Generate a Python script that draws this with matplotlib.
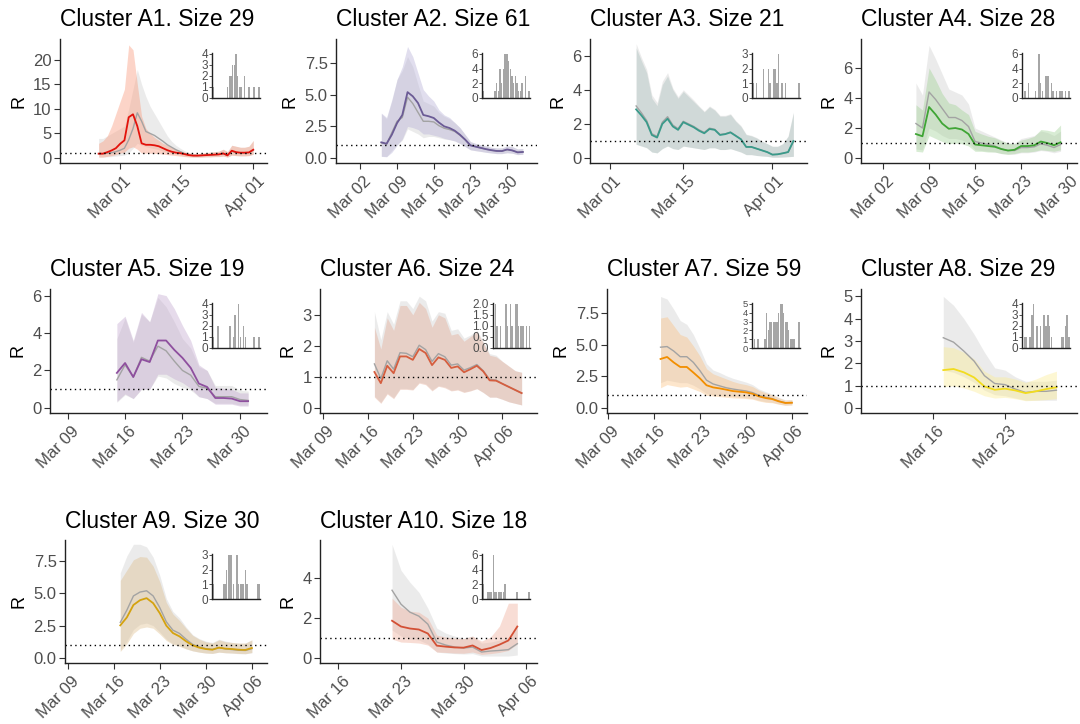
import numpy as np
import matplotlib
matplotlib.use("Agg")

import matplotlib.pyplot as plt
import matplotlib.dates as mdates
from matplotlib.transforms import ScaledTranslation

plt.rcParams["font.family"] = ["Liberation Sans", "DejaVu Sans"]


# =====================================================
# DATA  (daily R estimates, one value per day from START)
# colour = cluster estimate, G = grey reference estimate
# =====================================================

CLUSTERS = ["A1", "A2", "A3", "A4", "A5", "A6", "A7", "A8", "A9", "A10"]
SIZES = [29, 61, 21, 28, 19, 24, 59, 29, 30, 18]

A1_START = "2020-02-25"
A1_R = [0.9, 0.9, 1.2, 1.55, 2.0, 2.9, 3.6, 8.3, 8.9, 6.5, 3.0, 2.7, 2.7, 2.6, 2.4, 2.0, 1.6, 1.3, 1.1,
        1.0, 0.8, 0.6, 0.5, 0.5, 0.55, 0.6, 0.65, 0.7, 0.75, 0.95, 0.55, 1.5, 1.2, 1.1, 1.1, 1.15, 1.7]
A1_HI = [3.0, 3.5, 4.5, 6.5, 9.0, 11.5, 14.0, 23.0, 22.0, 15.0, 8.5, 6.0, 5.0, 4.2, 3.6, 3.0, 2.6, 2.2, 1.8,
         1.5, 1.2, 1.0, 0.9, 0.9, 1.0, 1.1, 1.2, 1.3, 1.4, 1.8, 1.3, 2.6, 2.4, 2.2, 2.2, 2.4, 3.6]
A1_LO = [0.2, 0.2, 0.35, 0.5, 0.7, 1.0, 1.2, 2.0, 2.3, 1.8, 1.0, 1.0, 1.0, 0.95, 0.9, 0.8, 0.7, 0.6, 0.5,
         0.4, 0.3, 0.25, 0.2, 0.2, 0.2, 0.25, 0.25, 0.3, 0.3, 0.4, 0.2, 0.6, 0.5, 0.45, 0.45, 0.5, 0.8]
A1_G = [0.9, 0.9, 1.0, 1.1, 1.3, 1.6, 2.0, 3.7, 6.0, 9.2, 7.5, 5.4, 5.0, 4.6, 4.0, 3.4, 2.7, 2.2, 1.7,
        1.3, 0.9, 0.65, 0.55, 0.5, 0.55, 0.6, 0.65, 0.7, 0.75, 0.9, 0.55, 1.4, 1.15, 1.05, 1.05, 1.1, 1.6]
A1_GHI = [4.0, 4.0, 4.5, 5.0, 5.5, 6.0, 6.5, 10.0, 14.0, 18.0, 15.0, 12.5, 10.5, 9.0, 7.5, 6.0, 4.5, 3.4, 2.6,
          2.0, 1.5, 1.1, 0.95, 0.9, 1.0, 1.1, 1.2, 1.3, 1.4, 1.8, 1.3, 2.6, 2.4, 2.2, 2.2, 2.4, 3.5]
A1_GLO = [0.2, 0.2, 0.25, 0.3, 0.4, 0.5, 0.6, 1.0, 2.0, 3.0, 2.6, 2.3, 2.1, 1.9, 1.7, 1.4, 1.2, 1.0, 0.8,
          0.6, 0.35, 0.25, 0.2, 0.2, 0.2, 0.25, 0.25, 0.3, 0.3, 0.4, 0.2, 0.6, 0.5, 0.45, 0.45, 0.5, 0.75]
A1_HIST = [1, 0, 0, 0, 0, 0, 0, 0, 0, 1, 2, 2, 3, 3, 4, 2, 1, 1, 0, 2, 0, 0, 1, 0, 0, 1, 0, 0, 1]

A2_START = "2020-03-06"
A2_R = [1.24, 1.13, 1.84, 2.76, 3.4, 5.2, 4.87, 4.34, 3.4, 3.3, 3.16, 2.8, 2.5, 2.37, 2.16, 1.84, 1.45,
        1.0, 0.9, 0.8, 0.7, 0.62, 0.56, 0.55, 0.68, 0.6, 0.45, 0.48]
A2_HI = [3.55, 3.2, 4.6, 6.2, 7.2, 8.8, 8.0, 6.7, 5.4, 4.9, 4.5, 3.8, 3.4, 3.2, 2.8, 2.4, 1.85,
         1.3, 1.15, 1.05, 0.95, 0.85, 0.8, 0.8, 0.95, 0.9, 0.72, 0.75]
A2_LO = [0.13, 0.1, 0.45, 1.0, 1.5, 2.5, 2.4, 2.25, 1.9, 1.9, 1.8, 1.7, 1.55, 1.45, 1.35, 1.15, 0.9,
         0.65, 0.58, 0.52, 0.45, 0.4, 0.35, 0.35, 0.42, 0.38, 0.27, 0.3]
A2_G = [1.2, 1.1, 2.0, 2.9, 3.2, 4.8, 4.3, 3.6, 2.9, 2.9, 2.85, 2.55, 2.35, 2.25, 2.1, 1.8, 1.45,
        1.0, 0.9, 0.8, 0.7, 0.62, 0.56, 0.55, 0.66, 0.6, 0.45, 0.48]
A2_GHI = [3.5, 3.1, 4.5, 6.2, 6.9, 8.0, 7.2, 5.8, 4.5, 4.3, 4.1, 3.6, 3.3, 3.1, 2.8, 2.4, 1.85,
          1.3, 1.15, 1.05, 0.95, 0.85, 0.8, 0.8, 0.95, 0.9, 0.72, 0.75]
A2_GLO = [0.15, 0.12, 0.6, 1.1, 1.4, 2.3, 2.1, 1.9, 1.6, 1.7, 1.7, 1.6, 1.5, 1.45, 1.35, 1.15, 0.9,
          0.65, 0.58, 0.52, 0.45, 0.4, 0.35, 0.35, 0.42, 0.38, 0.27, 0.3]
A2_HIST = [1, 0, 0, 0, 0, 0, 0, 1, 2, 1, 4, 2, 4, 6, 6, 5, 4, 3, 2, 3, 2, 1, 1, 2, 0, 3, 0, 1]

A3_START = "2020-03-06"
A3_R = [2.85, 2.5, 2.1, 1.35, 1.2, 2.0, 2.3, 1.85, 1.65, 2.1, 1.95, 1.8, 1.6, 1.45, 1.7, 1.65, 1.35,
        1.4, 1.5, 1.3, 1.1, 0.65, 0.65, 0.55, 0.45, 0.35, 0.2, 0.22, 0.28, 0.35, 1.0]
A3_HI = [6.45, 5.7, 5.0, 3.5, 3.07, 4.3, 4.8, 4.0, 3.5, 3.9, 3.6, 3.3, 3.0, 2.7, 3.0, 2.8, 2.45,
         2.45, 2.55, 2.15, 1.85, 1.37, 1.3, 1.17, 0.98, 0.84, 0.68, 0.68, 0.84, 1.27, 2.64]
A3_LO = [0.8, 0.7, 0.6, 0.35, 0.3, 0.55, 0.7, 0.55, 0.5, 0.7, 0.65, 0.6, 0.55, 0.5, 0.6, 0.6, 0.5,
         0.5, 0.55, 0.45, 0.35, 0.2, 0.2, 0.15, 0.12, 0.1, 0.05, 0.05, 0.06, 0.08, 0.1]
A3_G = [3.05, 2.65, 2.2, 1.42, 1.27, 2.1, 2.42, 1.93, 1.72, 2.15, 2.0, 1.85, 1.65, 1.5, 1.75, 1.68, 1.38,
        1.42, 1.52, 1.32, 1.1, 0.65, 0.65, 0.55, 0.45, 0.35, 0.2, 0.22, 0.28, 0.35, 0.95]
A3_GHI = [6.7, 5.9, 5.2, 3.7, 3.25, 4.5, 5.0, 4.1, 3.6, 4.0, 3.7, 3.4, 3.05, 2.75, 3.05, 2.85, 2.5,
          2.5, 2.6, 2.2, 1.9, 1.4, 1.33, 1.2, 1.0, 0.85, 0.7, 0.7, 0.85, 1.3, 2.7]
A3_GLO = [0.82, 0.72, 0.62, 0.36, 0.31, 0.56, 0.72, 0.56, 0.5, 0.7, 0.65, 0.6, 0.55, 0.5, 0.6, 0.6, 0.5,
          0.5, 0.55, 0.45, 0.35, 0.2, 0.2, 0.15, 0.12, 0.1, 0.05, 0.05, 0.06, 0.08, 0.1]
A3_HIST = [1, 0, 1, 0, 0, 0, 2, 0, 0, 2, 1, 0, 2, 2, 1, 3, 0, 1, 0, 1, 0, 0, 0, 0, 0, 0, 0, 1]

A4_START = "2020-03-07"
A4_R = [1.6, 1.45, 3.4, 2.9, 2.3, 1.95, 2.0, 1.9, 1.6, 0.9, 0.85, 0.8, 0.75, 0.6, 0.5, 0.55, 0.8,
        0.8, 0.85, 1.1, 1.0, 0.85, 1.05]
A4_HI = [3.55, 3.2, 6.0, 5.2, 4.3, 3.67, 3.55, 3.2, 2.9, 1.78, 1.6, 1.45, 1.35, 1.15, 1.0, 0.95, 1.2,
         1.3, 1.45, 1.9, 1.85, 1.75, 2.2]
A4_LO = [0.45, 0.4, 1.5, 1.3, 1.1, 0.95, 1.0, 0.95, 0.8, 0.45, 0.45, 0.4, 0.4, 0.3, 0.25, 0.3, 0.4,
         0.4, 0.45, 0.55, 0.5, 0.45, 0.55]
A4_G = [2.3, 2.0, 4.4, 3.9, 3.3, 2.7, 2.7, 2.5, 2.1, 1.1, 1.0, 0.9, 0.8, 0.6, 0.5, 0.5, 0.7,
        0.7, 0.75, 0.95, 0.85, 0.7, 0.9]
A4_GHI = [5.0, 4.2, 7.5, 6.6, 5.6, 4.6, 4.4, 4.2, 3.6, 2.0, 1.8, 1.6, 1.4, 1.2, 1.0, 1.0, 1.3,
          1.4, 1.5, 1.8, 1.7, 1.5, 1.8]
A4_GLO = [0.6, 0.55, 2.0, 1.8, 1.5, 1.3, 1.3, 1.2, 1.0, 0.55, 0.5, 0.45, 0.4, 0.3, 0.25, 0.25, 0.35,
          0.35, 0.4, 0.5, 0.45, 0.35, 0.45]
A4_HIST = [0, 1, 0, 2, 0, 0, 0, 1, 0, 6, 2, 1, 0, 3, 3, 0, 2, 1, 0, 1, 0, 1, 1, 0, 1, 0, 1]

A5_START = "2020-03-15"
A5_R = [1.87, 2.4, 1.65, 2.6, 2.45, 3.6, 3.6, 3.1, 2.67, 2.14, 1.3, 1.12, 0.53, 0.53, 0.5, 0.36, 0.36]
A5_HI = [4.5, 4.9, 3.6, 5.1, 4.6, 6.1, 6.0, 5.3, 4.4, 3.6, 2.3, 2.0, 1.1, 1.05, 1.0, 0.8, 0.8]
A5_LO = [0.35, 0.75, 0.5, 1.0, 1.0, 1.8, 1.8, 1.55, 1.35, 1.05, 0.6, 0.5, 0.2, 0.2, 0.2, 0.1, 0.1]
A5_G = [1.5, 2.3, 1.65, 2.7, 2.5, 3.3, 3.05, 2.5, 2.0, 1.75, 1.15, 1.05, 0.6, 0.6, 0.6, 0.45, 0.4]
A5_GHI = [3.7, 4.8, 3.5, 5.0, 4.6, 5.9, 5.4, 4.6, 3.7, 3.2, 2.2, 2.0, 1.2, 1.2, 1.2, 0.95, 0.9]
A5_GLO = [0.3, 0.7, 0.5, 1.0, 1.0, 1.7, 1.6, 1.3, 1.1, 0.95, 0.6, 0.5, 0.25, 0.25, 0.25, 0.15, 0.15]
A5_HIST = [1, 0, 0, 2, 0, 0, 0, 0, 0, 0, 2, 0, 1, 3, 0, 4, 1, 0, 2, 1, 0, 0, 0, 0, 1, 0, 0, 1]

A6_START = "2020-03-17"
A6_R = [1.16, 0.8, 1.36, 1.12, 1.66, 1.66, 1.55, 1.9, 1.77, 1.38, 1.63, 1.55, 1.29, 1.34, 1.15, 1.25,
        1.36, 1.18, 0.89, 0.88, 0.78, 0.68, 0.58, 0.48]
A6_HI = [2.6, 1.9, 2.9, 2.5, 3.3, 3.3, 3.0, 3.4, 3.2, 2.6, 3.0, 2.9, 2.35, 2.4, 2.15, 2.3,
         2.45, 2.1, 1.7, 1.65, 1.5, 1.35, 1.2, 1.15]
A6_LO = [0.35, 0.15, 0.45, 0.3, 0.6, 0.6, 0.58, 0.8, 0.75, 0.55, 0.7, 0.65, 0.55, 0.58, 0.5, 0.55,
         0.62, 0.5, 0.35, 0.35, 0.28, 0.2, 0.15, 0.1]
A6_G = [1.42, 0.95, 1.52, 1.25, 1.78, 1.76, 1.65, 2.02, 1.88, 1.5, 1.75, 1.65, 1.38, 1.42, 1.22, 1.3,
        1.4, 1.2, 0.92, 0.9, 0.78, 0.68, 0.58, 0.48]
A6_GHI = [3.1, 2.2, 3.1, 2.7, 3.45, 3.45, 3.2, 3.6, 3.45, 2.8, 3.1, 3.05, 2.5, 2.55, 2.25, 2.35,
          2.5, 2.15, 1.75, 1.7, 1.5, 1.35, 1.2, 1.15]
A6_GLO = [0.38, 0.18, 0.48, 0.33, 0.63, 0.63, 0.6, 0.83, 0.78, 0.58, 0.72, 0.68, 0.57, 0.6, 0.52, 0.56,
          0.63, 0.5, 0.35, 0.35, 0.28, 0.2, 0.15, 0.1]
A6_HIST = [0, 2, 1, 1, 0, 1, 0, 0, 0, 2, 1, 0, 2, 1, 1, 0, 2, 2, 1, 0, 1, 1, 1, 0, 1, 0, 1]

A7_START = "2020-03-17"
A7_R = [3.87, 4.03, 3.6, 3.24, 3.24, 2.8, 2.34, 1.8, 1.63, 1.55, 1.45, 1.34, 1.29, 1.24, 1.13, 0.92,
        0.79, 0.71, 0.53, 0.4, 0.42]
A7_HI = [7.1, 7.2, 6.5, 5.8, 5.6, 4.9, 4.1, 3.1, 2.7, 2.5, 2.3, 2.1, 1.95, 1.85, 1.7, 1.4,
         1.2, 1.05, 0.8, 0.62, 0.65]
A7_LO = [1.6, 1.85, 1.75, 1.65, 1.7, 1.5, 1.3, 1.0, 0.95, 0.9, 0.85, 0.8, 0.78, 0.75, 0.7, 0.55,
         0.45, 0.42, 0.3, 0.22, 0.24]
A7_G = [4.8, 4.85, 4.5, 4.05, 4.05, 3.6, 2.95, 2.2, 1.9, 1.75, 1.6, 1.5, 1.42, 1.35, 1.22, 1.0,
        0.85, 0.75, 0.55, 0.42, 0.43]
A7_GHI = [8.8, 8.6, 7.8, 6.9, 6.6, 5.8, 4.7, 3.5, 3.0, 2.8, 2.55, 2.35, 2.2, 2.05, 1.85, 1.5,
          1.3, 1.1, 0.85, 0.65, 0.67]
A7_GLO = [2.0, 2.2, 2.1, 2.0, 2.0, 1.8, 1.5, 1.15, 1.05, 1.0, 0.95, 0.9, 0.85, 0.82, 0.75, 0.6,
          0.5, 0.45, 0.32, 0.23, 0.25]
A7_HIST = [0, 1, 0, 1, 0, 0, 0, 1, 4, 2, 3, 3, 3, 3, 3, 4, 5, 5, 4, 3, 3, 2, 1, 1, 1, 0, 0, 3]

A8_START = "2020-03-17"
A8_R = [1.7, 1.75, 1.6, 1.37, 0.97, 0.82, 0.87, 0.79, 0.67, 0.75, 0.85, 0.93]
A8_HI = [2.75, 2.7, 2.5, 2.2, 1.65, 1.4, 1.4, 1.3, 1.15, 1.3, 1.5, 1.65]
A8_LO = [0.95, 1.0, 0.9, 0.75, 0.55, 0.45, 0.48, 0.42, 0.33, 0.35, 0.38, 0.42]
A8_G = [3.15, 2.95, 2.55, 2.1, 1.45, 1.1, 1.05, 0.85, 0.7, 0.75, 0.75, 0.8]
A8_GHI = [5.0, 4.6, 4.0, 3.3, 2.5, 1.8, 1.7, 1.4, 1.2, 1.2, 1.2, 1.25]
A8_GLO = [1.7, 1.6, 1.4, 1.15, 0.8, 0.6, 0.55, 0.45, 0.35, 0.35, 0.35, 0.35]
A8_HIST = [0, 1, 1, 0, 1, 3, 4, 0, 2, 0, 2, 0, 3, 2, 3, 2, 1, 0, 0, 0, 0, 0, 1, 1, 2, 3, 1]

A9_START = "2020-03-17"
A9_R = [2.52, 3.14, 4.1, 4.47, 4.63, 4.24, 3.47, 2.5, 1.93, 1.67, 1.29, 0.98, 0.8, 0.69, 0.64, 0.8,
        0.72, 0.69, 0.64, 0.62, 0.77]
A9_HI = [6.0, 6.8, 7.6, 7.85, 7.8, 7.1, 5.9, 4.3, 3.4, 2.9, 2.3, 1.75, 1.45, 1.25, 1.15, 1.4,
         1.25, 1.2, 1.15, 1.15, 1.4]
A9_LO = [0.5, 1.1, 1.9, 2.3, 2.4, 2.3, 1.85, 1.35, 1.05, 0.9, 0.7, 0.55, 0.45, 0.38, 0.35, 0.45,
         0.4, 0.38, 0.35, 0.33, 0.42]
A9_G = [2.75, 3.7, 4.8, 5.1, 5.2, 4.8, 3.9, 2.8, 2.15, 1.9, 1.45, 1.05, 0.85, 0.72, 0.66, 0.8,
        0.7, 0.65, 0.6, 0.58, 0.72]
A9_GHI = [6.6, 7.9, 8.8, 8.8, 8.6, 7.8, 6.4, 4.6, 3.6, 3.1, 2.4, 1.8, 1.5, 1.3, 1.2, 1.45,
          1.3, 1.2, 1.15, 1.15, 1.4]
A9_GLO = [0.6, 1.3, 2.2, 2.6, 2.7, 2.5, 2.0, 1.45, 1.1, 0.95, 0.72, 0.55, 0.45, 0.38, 0.35, 0.45,
          0.4, 0.37, 0.33, 0.32, 0.4]
A9_HIST = [1, 0, 0, 0, 0, 0, 1, 1, 2, 3, 3, 3, 1, 0, 3, 1, 1, 1, 1, 2, 1, 0, 0, 0, 0, 0, 1, 1]

A10_START = "2020-03-22"
A10_R = [1.87, 1.58, 1.48, 1.43, 1.23, 0.62, 0.57, 0.53, 0.52, 0.63, 0.4, 0.5, 0.67, 0.88, 1.58]
A10_HI = [3.0, 2.55, 2.35, 2.3, 2.0, 1.15, 1.05, 1.0, 0.97, 1.1, 0.85, 1.05, 1.6, 2.75, 2.75]
A10_LO = [0.95, 0.8, 0.78, 0.75, 0.65, 0.3, 0.28, 0.25, 0.24, 0.3, 0.18, 0.22, 0.28, 0.38, 0.7]
A10_G = [3.4, 2.7, 2.3, 2.1, 1.7, 0.8, 0.65, 0.55, 0.5, 0.55, 0.3, 0.35, 0.38, 0.42, 0.72]
A10_GHI = [5.7, 4.4, 3.8, 3.3, 2.5, 1.5, 1.25, 1.1, 1.0, 1.1, 0.75, 0.8, 0.9, 1.0, 1.6]
A10_GLO = [1.4, 1.1, 0.95, 0.9, 0.7, 0.3, 0.25, 0.22, 0.2, 0.22, 0.1, 0.1, 0.1, 0.1, 0.15]
A10_HIST = [2, 0, 0, 1, 1, 1, 6, 1, 1, 1, 1, 1, 1, 2, 0, 0, 0, 0, 0, 0, 1, 0, 0, 0, 0, 0, 0, 1]

# axis ticks per panel
X_TICKS = {
    "A1": ["2020-03-01", "2020-03-15", "2020-04-01"],
    "A2": ["2020-03-02", "2020-03-09", "2020-03-16", "2020-03-23", "2020-03-30"],
    "A3": ["2020-03-01", "2020-03-15", "2020-04-01"],
    "A4": ["2020-03-02", "2020-03-09", "2020-03-16", "2020-03-23", "2020-03-30"],
    "A5": ["2020-03-09", "2020-03-16", "2020-03-23", "2020-03-30"],
    "A6": ["2020-03-09", "2020-03-16", "2020-03-23", "2020-03-30", "2020-04-06"],
    "A7": ["2020-03-09", "2020-03-16", "2020-03-23", "2020-03-30", "2020-04-06"],
    "A8": ["2020-03-16", "2020-03-23"],
    "A9": ["2020-03-09", "2020-03-16", "2020-03-23", "2020-03-30", "2020-04-06"],
    "A10": ["2020-03-16", "2020-03-23", "2020-03-30", "2020-04-06"],
}
Y_TICKS = {
    "A1": [0, 5, 10, 15, 20], "A2": [0, 2.5, 5, 7.5], "A3": [0, 2, 4, 6], "A4": [0, 2, 4, 6],
    "A5": [0, 2, 4, 6], "A6": [0, 1, 2, 3], "A7": [0, 2.5, 5, 7.5], "A8": [0, 1, 2, 3, 4, 5],
    "A9": [0, 2.5, 5, 7.5], "A10": [0, 2, 4],
}
HIST_TICKS = {
    "A1": [0, 1, 2, 3, 4], "A2": [0, 2, 4, 6], "A3": [0, 1, 2, 3], "A4": [0, 2, 4, 6],
    "A5": [0, 1, 2, 3, 4], "A6": [0, 0.5, 1, 1.5, 2], "A7": [0, 1, 2, 3, 4, 5],
    "A8": [0, 1, 2, 3, 4], "A9": [0, 1, 2, 3], "A10": [0, 2, 4, 6],
}


# =====================================================
# STYLE / LAYOUT
# =====================================================

LINE_COLORS = ["#E3120B", "#6B5B95", "#3A9A8A", "#3FA535", "#8E4F9E",
               "#D55E3F", "#F28E00", "#F2DC1E", "#D4A20F", "#D35035"]
FILL_COLORS = ["#FA9A7C", "#B4AED6", "#A9C0BC", "#9ACF8E", "#BFA2CC",
               "#E3A58E", "#FBBE7A", "#FCEB8C", "#DDBB86", "#EFA892"]
FILL_ALPHA = [0.42, 0.4, 0.4, 0.38, 0.38, 0.38, 0.38, 0.38, 0.38, 0.38]

# panel boxes in pixels: left, right, top, bottom
BOXES = {
    "A1": (60, 267, 39, 163), "A2": (336, 537, 39, 163), "A3": (590, 807, 39, 163),
    "A4": (861, 1077, 39, 163), "A5": (50, 267, 289, 413), "A6": (320, 537, 289, 413),
    "A7": (607, 807, 289, 413), "A8": (861, 1077, 289, 413), "A9": (65, 267, 540, 663),
    "A10": (320, 537, 540, 663),
}
# x limits as days from 1 March, y limits
XLIMS = {
    "A1": (-14, 34.2), "A2": (-3.65, 34.7), "A3": (-3.8, 37.6), "A4": (-2.35, 30.5),
    "A5": (5.85, 32.3), "A6": (7.5, 41.4), "A7": (7.85, 38.3), "A8": (8, 29),
    "A9": (7.6, 38.3), "A10": (12.95, 37.2),
}
YLIMS = {
    "A1": (-1.0, 24.2), "A2": (-0.39, 9.39), "A3": (-0.29, 6.97), "A4": (-0.33, 7.93),
    "A5": (-0.27, 6.35), "A6": (-0.16, 3.83), "A7": (-0.39, 9.39), "A8": (-0.22, 5.33),
    "A9": (-0.39, 9.13), "A10": (-0.25, 5.92),
}
INSET_W = {"A6": 37}
INSET_FS = {"A7": 6.8}

W, H = 1080, 724
TEXT_GREY = "#4D4D4D"

fig = plt.figure(figsize=(W / 100, H / 100), dpi=100)


def px_box(left, right, top, bottom):
    return [left / W, 1 - bottom / H, (right - left) / W, (bottom - top) / H]


base = mdates.date2num(np.datetime64("2020-03-01"))

for i, name in enumerate(CLUSTERS):

    g = globals()
    start = np.datetime64(g[name + "_START"])
    r = np.array(g[name + "_R"])
    dates = start + np.arange(len(r))

    left, right, top, bottom = BOXES[name]
    ax = fig.add_axes(px_box(left, right, top, bottom))

    ax.fill_between(dates, g[name + "_GLO"], g[name + "_GHI"],
                    color="#DCDCDC", alpha=0.55, lw=0)
    ax.fill_between(dates, g[name + "_LO"], g[name + "_HI"],
                    color=FILL_COLORS[i], alpha=FILL_ALPHA[i], lw=0)
    ax.plot(dates, g[name + "_G"], color="#A3A3A3", lw=1.0)
    ax.plot(dates, r, color=LINE_COLORS[i], lw=1.3)
    ax.axhline(1, color="black", lw=1.0, ls=(0, (1, 2.5)))

    ax.set_xlim(base + XLIMS[name][0], base + XLIMS[name][1])
    ax.set_ylim(*YLIMS[name])

    ax.set_xticks([np.datetime64(t) for t in X_TICKS[name]])
    ax.xaxis.set_major_formatter(mdates.DateFormatter("%b %d"))
    ax.set_yticks(Y_TICKS[name])
    if name in ("A2", "A7", "A9"):
        ax.set_yticklabels([f"{v:.1f}" for v in Y_TICKS[name]])
    else:
        ax.set_yticklabels([f"{v:g}" for v in Y_TICKS[name]])

    for s in ("top", "right"):
        ax.spines[s].set_visible(False)
    for s in ("left", "bottom"):
        ax.spines[s].set_color("#222222")
        ax.spines[s].set_linewidth(1.0)
    ax.tick_params(length=4, width=0.8, color="#333333", labelcolor=TEXT_GREY,
                   labelsize=12, pad=2)

    offset = ScaledTranslation(3.5 / 100, -2 / 100, fig.dpi_scale_trans)
    for lab in ax.get_xticklabels():
        lab.set_rotation(45)
        lab.set_ha("right")
        lab.set_va("top")
        lab.set_rotation_mode("anchor")
        lab.set_transform(lab.get_transform() + offset)

    ax.set_ylabel("R", fontsize=13, color="black", labelpad=4)
    ax.set_title(f"Cluster {name}. Size {SIZES[i]}", loc="left",
                 fontsize=16.5, pad=9, color="black")

    # inset histogram of case counts
    hist = g[name + "_HIST"]
    iw = INSET_W.get(name, 48)
    iax = fig.add_axes(px_box(right - 7 - iw, right - 7, top + 14, top + 59))
    iax.bar(np.arange(len(hist)), hist, width=0.85, color="#A6A6A6", lw=0)
    iax.set_xlim(-0.6, len(hist) - 0.4)
    hmax = HIST_TICKS[name][-1]
    iax.set_ylim(0, hmax * 1.02)
    iax.set_yticks(HIST_TICKS[name])
    if name == "A6":
        iax.set_yticklabels([f"{v:.1f}" for v in HIST_TICKS[name]])
    else:
        iax.set_yticklabels([f"{v:g}" for v in HIST_TICKS[name]])
    iax.set_xticks([])
    iax.patch.set_alpha(0)
    for s in ("top", "right"):
        iax.spines[s].set_visible(False)
    for s in ("left", "bottom"):
        iax.spines[s].set_color("#222222")
        iax.spines[s].set_linewidth(1.0)
    iax.tick_params(axis="y", length=2, width=0.6, color="#333333",
                    labelcolor=TEXT_GREY, labelsize=INSET_FS.get(name, 8.5), pad=1)

fig.savefig("out.png", dpi=100)
